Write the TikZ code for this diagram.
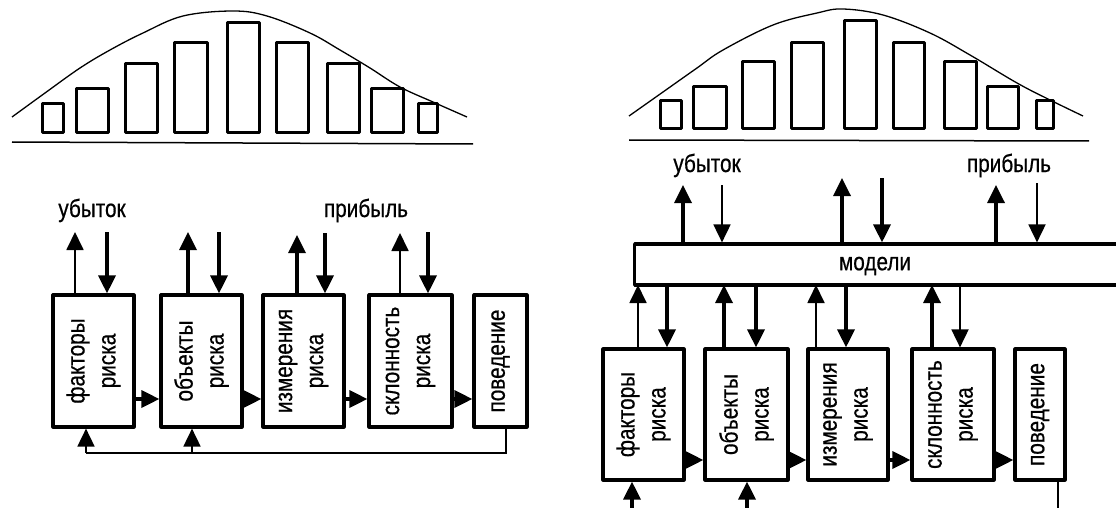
\documentclass[tikz,border=0pt]{standalone}
\usepackage{fontspec}
\setmainfont{Liberation Sans}[FakeStretch=0.83,FakeBold=0.6]
\usetikzlibrary{arrows.meta,calc}
\begin{document}
\begin{tikzpicture}[x=1pt,y=-1pt,
  box/.style={draw,line width=3.2pt,inner sep=0pt,line join=round},
  boxtext/.style={rotate=90,align=center,inner sep=0pt,
    font=\fontsize{25pt}{31pt}\selectfont},
  lbl/.style={inner sep=0pt,anchor=base,font=\fontsize{25pt}{28pt}\selectfont},
  bar/.style={line width=3pt,line join=round},
  curve/.style={line width=1.3pt},
  base/.style={line width=1.5pt},
  thk/.style={line width=3.4pt},
  thn/.style={line width=1.8pt},
  arr/.style={-{Triangle[length=18pt,width=17pt]}},
]
\useasboundingbox (0,0) rectangle (1116,508);
\clip (0,0) rectangle (1116,508);

% ---------- left histogram ----------
\draw[curve] plot[smooth,tension=0.6] coordinates {(12,117) (45,93) (80,68) (110,50) (143,33)
  (183,16) (233,11) (267,16) (310,33) (340,50) (370,68) (400,87) (433,102) (467,117)};
\draw[base] (12,142) -- (473,144);
\foreach \xa/\xb/\yt in {42/63/104, 76/108/89, 125/157/64, 174/207/43, 227/259/23,
    276/308/43, 327/359/64, 371/403/89, 418/437/104}
  \draw[bar] (\xa,\yt) rectangle (\xb,133);

% ---------- right histogram ----------
\draw[curve] plot[smooth,tension=0.6] coordinates {(629,116) (663,92) (697,68) (723,50) (773,25)
  (817,13) (843,9) (883,15) (930,33) (970,55) (1017,83) (1050,100) (1083,116)};
\draw[base] (629,140) -- (1089,141);
\foreach \xa/\xb/\yt in {660/681/101, 693/726/87, 742/774/62, 791/823/43, 844/876/21,
    893/924/43, 944/976/62, 987/1018/87, 1036/1053/101}
  \draw[bar] (\xa,\yt) rectangle (\xb,129);

% ---------- left chain ----------
\node[box,minimum width=81pt,minimum height=132pt] (b1) at (93.5,361) {};
\node[box,minimum width=81pt,minimum height=132pt] (b2) at (201.5,361) {};
\node[box,minimum width=81pt,minimum height=132pt] (b3) at (303.5,361) {};
\node[box,minimum width=83pt,minimum height=132pt] (b4) at (410.5,361) {};
\node[box,minimum width=53pt,minimum height=132pt] (b5) at (500.5,361) {};
\node[boxtext] (t1) at (b1) {факторы\\риска};
\node[boxtext] (t2) at (b2) {объекты\\риска};
\node[boxtext] (t3) at (b3) {измерения\\риска};
\node[boxtext] (t4) at (b4) {склонность\\риска};
\node[boxtext] (t5) at (b5) {поведение};

\node[lbl] (loss1) at (92,217) {убыток};
\node[lbl] (gain1) at (366,217) {прибыль};

\coordinate (u1) at (75,232);  \coordinate (d1) at (107,232);
\coordinate (u2) at (188,232); \coordinate (d2) at (219,232);
\coordinate (u3) at (297,235); \coordinate (d3) at (325,233);
\coordinate (u4) at (400,233); \coordinate (d4) at (428,232);
\draw[thn,arr] (b1.north -| u1) -- (u1);
\draw[thk,arr] (d1) -- (b1.north -| d1);
\draw[thk,arr] (b2.north -| u2) -- (u2);
\draw[thk,arr] (d2) -- (b2.north -| d2);
\draw[thk,arr] (b3.north -| u3) -- (u3);
\draw[thk,arr] (d3) -- (b3.north -| d3);
\draw[thn,arr] (b4.north -| u4) -- (u4);
\draw[thk,arr] (d4) -- (b4.north -| d4);

\draw[thk,arr] ([yshift=-38pt]b1.east) -- ([yshift=-38pt]b2.west);
\draw[thk,arr] ([yshift=-38pt]b2.east) -- ([yshift=-38pt]b3.west);
\draw[thk,arr] ([yshift=-38pt]b3.east) -- ([yshift=-38pt]b4.west);
\draw[thk,arr] ([yshift=-38pt]b4.east) -- ([yshift=-38pt]b5.west);

\coordinate (fbR) at (506,453);
\coordinate (fbL) at (86,453);
\coordinate (fbM) at (192,453);
\draw[thn] (b5.south -| fbR) -- (fbR) -- (fbL);
\draw[thn,arr] (fbL) -- (b1.south -| fbL);
\draw[thn,arr] (fbM) -- (b2.south -| fbM);

% ---------- right chain ----------
\node[box,minimum width=500pt,minimum height=41pt,anchor=west] (mod) at (633,264.5) {};
\node[inner sep=0pt,font=\fontsize{25pt}{28pt}\selectfont] (modt) at (875,266) {модели};

\node[box,minimum width=81pt,minimum height=131pt] (B1) at (643.5,414.5) {};
\node[box,minimum width=83pt,minimum height=131pt] (B2) at (746.5,414.5) {};
\node[box,minimum width=80pt,minimum height=131pt] (B3) at (848,414.5) {};
\node[box,minimum width=82pt,minimum height=131pt] (B4) at (953,414.5) {};
\node[box,minimum width=50pt,minimum height=131pt] (B5) at (1040,414.5) {};
\node[boxtext] (T1) at (B1) {факторы\\риска};
\node[boxtext] (T2) at (B2) {объекты\\риска};
\node[boxtext] (T3) at (B3) {измерения\\риска};
\node[boxtext] (T4) at (B4) {склонность\\риска};
\node[boxtext] (T5) at (B5) {поведение};

\node[lbl] (loss2) at (707,172) {убыток};
\node[lbl] (gain2) at (1009,172) {прибыль};

% exchanges above the model bar
\coordinate (mu1) at (683,185); \coordinate (md1) at (722,185);
\coordinate (mu2) at (842,178); \coordinate (md2) at (882,178);
\coordinate (mu3) at (996,185); \coordinate (md3) at (1037,183);
\draw[thk,arr] (mod.north -| mu1) -- (mu1);
\draw[thn,arr] (md1) -- (mod.north -| md1);
\draw[thk,arr] (mod.north -| mu2) -- (mu2);
\draw[thk,arr] (md2) -- (mod.north -| md2);
\draw[thk,arr] (mod.north -| mu3) -- (mu3);
\draw[thn,arr] (md3) -- (mod.north -| md3);

% exchanges between the blocks and the model bar
\coordinate (p1) at (638,285); \coordinate (q1) at (667,285);
\coordinate (p2) at (724,285); \coordinate (q2) at (756,285);
\coordinate (p3) at (816,285); \coordinate (q3) at (846,285);
\coordinate (p4) at (932,285); \coordinate (q4) at (960,285);
\draw[thn,arr] (B1.north -| p1) -- (p1);
\draw[thk,arr] (q1) -- (B1.north -| q1);
\draw[thk,arr] (B2.north -| p2) -- (p2);
\draw[thk,arr] (q2) -- (B2.north -| q2);
\draw[thn,arr] (B3.north -| p3) -- (p3);
\draw[thk,arr] (q3) -- (B3.north -| q3);
\draw[thk,arr] (B4.north -| p4) -- (p4);
\draw[thn,arr] (q4) -- (B4.north -| q4);

\draw[thk,arr] ([yshift=-45.5pt]B1.east) -- ([yshift=-45.5pt]B2.west);
\draw[thk,arr] ([yshift=-45.5pt]B2.east) -- ([yshift=-45.5pt]B3.west);
\draw[thk,arr] ([yshift=-45.5pt]B3.east) -- ([yshift=-45.5pt]B4.west);
\draw[thk,arr] ([yshift=-45.5pt]B4.east) -- ([yshift=-45.5pt]B5.west);

\coordinate (in1) at (632,510);
\coordinate (in2) at (747,510);
\coordinate (out5) at (1058,510);
\draw[thk,arr] (in1) -- (B1.south -| in1);
\draw[thk,arr] (in2) -- (B2.south -| in2);
\draw[thn] (B5.south -| out5) -- (out5);
\end{tikzpicture}
\end{document}
